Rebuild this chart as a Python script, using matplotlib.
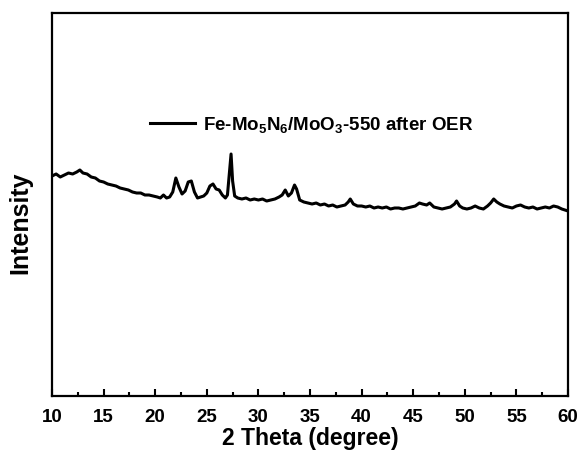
import matplotlib
matplotlib.use("Agg")
import matplotlib.pyplot as plt
from matplotlib.ticker import MultipleLocator

plt.rcParams['font.family'] = ['Liberation Sans', 'DejaVu Sans']
plt.rcParams['font.weight'] = 'bold'
plt.rcParams['mathtext.fontset'] = 'custom'
plt.rcParams['mathtext.rm'] = 'Liberation Sans:bold'
plt.rcParams['mathtext.it'] = 'Liberation Sans:bold'
plt.rcParams['mathtext.bf'] = 'Liberation Sans:bold'
plt.rcParams['mathtext.default'] = 'rm'

two_theta = [10.0, 10.4, 10.8, 11.2, 11.6, 12.0, 12.4, 12.7, 13.0, 13.4, 13.8, 14.2, 14.6, 15.0,
             15.4, 15.8, 16.2, 16.6, 17.0, 17.4, 17.8, 18.2, 18.6, 19.0, 19.4, 19.8, 20.2, 20.5,
             20.8, 21.1, 21.4, 21.7, 22.0, 22.3, 22.6, 22.9, 23.2, 23.5, 23.8, 24.1, 24.4, 24.7,
             25.0, 25.3, 25.6, 25.9, 26.2, 26.5, 26.8, 27.0, 27.2, 27.35, 27.5, 27.7, 28.0, 28.4,
             28.8, 29.2, 29.6, 30.0, 30.4, 30.8, 31.2, 31.6, 32.0, 32.3, 32.6, 32.9, 33.2, 33.5,
             33.7, 34.0, 34.4, 34.8, 35.2, 35.6, 36.0, 36.4, 36.8, 37.2, 37.6, 38.0, 38.4, 38.7,
             38.9, 39.2, 39.6, 40.0, 40.4, 40.8, 41.2, 41.6, 42.0, 42.4, 42.8, 43.2, 43.6, 44.0,
             44.4, 44.8, 45.2, 45.6, 45.9, 46.3, 46.6, 47.0, 47.4, 47.8, 48.2, 48.6, 49.0, 49.2,
             49.5, 49.8, 50.2, 50.6, 51.0, 51.4, 51.8, 52.2, 52.5, 52.8, 53.1, 53.4, 53.8, 54.2,
             54.6, 55.0, 55.4, 55.8, 56.2, 56.6, 57.0, 57.4, 57.8, 58.2, 58.6, 59.0, 59.4, 60.0]
intensity = [220, 222, 219, 221, 223, 222, 224, 226, 223, 222, 219, 218, 215, 214,
             212, 211, 210, 208, 207, 206, 204, 203, 203, 201, 201, 200, 199, 198,
             201, 198, 199, 204, 218, 209, 202, 205, 214, 215, 204, 198, 199, 200,
             203, 210, 212, 207, 206, 201, 198, 201, 225, 242, 215, 200, 198, 197,
             198, 196, 197, 196, 197, 195, 196, 197, 199, 201, 206, 200, 203, 211,
             207, 196, 194, 193, 192, 193, 191, 192, 190, 191, 189, 190, 191, 194,
             197, 192, 190, 190, 189, 190, 188, 189, 188, 189, 187, 188, 188, 187,
             188, 189, 190, 193, 192, 191, 193, 189, 188, 187, 188, 189, 192, 195,
             190, 188, 187, 188, 190, 188, 187, 190, 193, 197, 194, 192, 190, 189,
             188, 190, 191, 189, 188, 189, 187, 188, 189, 188, 190, 189, 187, 185]
series_label = "Fe-Mo$_5$N$_6$/MoO$_3$-550 after OER"
x_ticks = [10, 15, 20, 25, 30, 35, 40, 45, 50, 55, 60]

fig = plt.figure(figsize=(5.83, 4.52), dpi=100)
ax = fig.add_axes([0.0892, 0.1217, 0.8851, 0.8473])
ax.plot(two_theta, intensity, color='black', lw=2.2, label=series_label)
ax.set_xlim(10, 60)
ax.set_ylim(0, 383)
ax.set_xticks(x_ticks)
ax.xaxis.set_minor_locator(MultipleLocator(2.5))
ax.set_yticks([])
ax.tick_params(axis='x', which='major', direction='in', length=5, width=1.5, labelsize=13.5, pad=9)
ax.tick_params(axis='x', which='minor', direction='in', length=3, width=1.5)
for s in ax.spines.values():
    s.set_linewidth(1.6)
ax.set_xlabel("2 Theta (degree)", fontsize=16.5, fontweight='bold')
ax.xaxis.set_label_coords(0.5, -0.079)
ax.set_ylabel("Intensity", fontsize=18, fontweight='bold')
ax.yaxis.set_label_coords(-0.038, 0.454)
ax.legend(loc='center left', bbox_to_anchor=(0.164, 0.71), frameon=False,
          fontsize=13.5, handlelength=2.4, handletextpad=0.45, borderpad=0.2)
fig.savefig("out.png", dpi=100)
